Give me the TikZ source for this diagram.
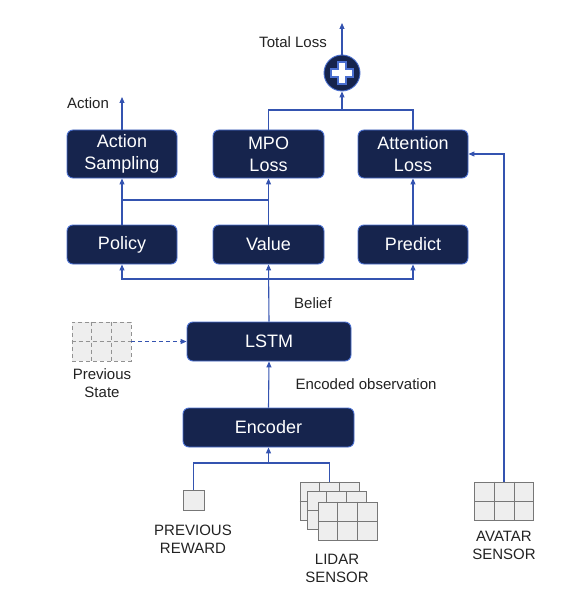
\documentclass[tikz,border=0pt]{standalone}
\usepackage{fontspec}
\setmainfont{Liberation Sans}
\usetikzlibrary{arrows.meta,calc}
\definecolor{navy}{HTML}{16244D}
\definecolor{edgeblue}{HTML}{4A6FD0}
\definecolor{lineblue}{HTML}{3453B0}
\definecolor{gridfill}{HTML}{EEEEEE}
\definecolor{gridstroke}{HTML}{777777}
\definecolor{labeltext}{HTML}{222222}
\newcommand\gridlines[2]{%
 \draw[#2] ($(#1.north west)!1/3!(#1.north east)$) -- ($(#1.south west)!1/3!(#1.south east)$);
 \draw[#2] ($(#1.north west)!2/3!(#1.north east)$) -- ($(#1.south west)!2/3!(#1.south east)$);
 \draw[#2] (#1.west) -- (#1.east);}
\tikzset{
 blk/.style={draw=edgeblue, line width=0.9bp, fill=navy, rounded corners=6bp, text=white,
   font=\fontsize{18bp}{22bp}\selectfont, align=center, inner sep=0pt, minimum height=39bp},
 lbl/.style={text=labeltext, font=\fontsize{15bp}{18bp}\selectfont, align=center, inner sep=0pt},
 conn/.style={draw=lineblue, line width=1.1bp},
 arr/.style={conn, -{Triangle[length=6bp,width=5bp]}},
 sgrid/.style={draw=gridstroke, line width=1bp, fill=gridfill, inner sep=0pt, minimum width=59bp, minimum height=38bp},
 gl/.style={draw=gridstroke, line width=1bp},
 dgrid/.style={draw=gridstroke!80, line width=0.9bp, dash pattern=on 4bp off 3bp, fill=gridfill, inner sep=0pt, minimum width=59bp, minimum height=39bp},
 dgl/.style={draw=gridstroke!80, line width=0.9bp, dash pattern=on 4bp off 3bp},
}
\begin{document}
\begin{tikzpicture}[x=1bp,y=-1bp]
\useasboundingbox (0,0) rectangle (569,600);
% top row
\node[blk, minimum width=110bp, minimum height=48bp] (as) at (122,154) {Action\\Sampling};
\node[blk, minimum width=111bp, minimum height=48bp] (mpo) at (268.5,154) {MPO\\Loss};
\node[blk, minimum width=110bp, minimum height=48bp] (att) at (413,154) {Attention\\Loss};
% second row
\node[blk, minimum width=110bp] (pol) at (122,244.5) {Policy};
\node[blk, minimum width=111bp] (val) at (268.5,244.5) {Value};
\node[blk, minimum width=110bp] (pred) at (413,244.5) {Predict};
% lstm, encoder
\node[blk, minimum width=164bp] (lstm) at (269,341.5) {LSTM};
\node[blk, minimum width=171bp] (enc) at (268.5,427.5) {Encoder};
% plus
\node[circle, draw=edgeblue, line width=0.9bp, fill=navy, minimum size=36bp, inner sep=0pt] (plus) at (342,73) {};
\draw[draw=edgeblue, line width=1.2bp, fill=white]
  ($(plus.center)+(-4,-11)$) -- ++(8,0) -- ++(0,7) -- ++(7,0) -- ++(0,8) -- ++(-7,0) -- ++(0,7)
  -- ++(-8,0) -- ++(0,-7) -- ++(-7,0) -- ++(0,-8) -- ++(7,0) -- cycle;
% labels
\node[lbl] (tl) at (293,42) {Total Loss};
\node[lbl] (actl) at (88,103) {Action};
\node[lbl] (bel) at (313,303) {Belief};
\node[lbl] (encl) at (366,384) {Encoded observation};
% previous state
\node[dgrid] (ps) at (101.5,341.5) {};
\gridlines{ps}{dgl}
\node[lbl] (psl) at (102,383) {Previous\\State};
% reward
\node[draw=gridstroke, line width=1bp, fill=gridfill, minimum width=21bp, minimum height=20bp, inner sep=0pt] (rew) at (193.5,500) {};
\node[lbl] (rewl) at (193,539) {PREVIOUS\\REWARD};
% lidar stack
\node[sgrid] (l1) at (329.5,501) {};
\gridlines{l1}{gl}
\node[sgrid] (l2) at (336.5,510.5) {};
\gridlines{l2}{gl}
\node[sgrid] (l3) at (347.5,521) {};
\gridlines{l3}{gl}
\node[lbl] (lidl) at (337,568.5) {LIDAR\\SENSOR};
% avatar
\node[sgrid] (av) at (504,501) {};
\gridlines{av}{gl}
\node[lbl] (avl) at (504,545) {AVATAR\\SENSOR};
% coordinates
\coordinate (tlend) at (342,23);
\coordinate (actend) at (122,97);
\coordinate (lossj) at (342,110);
\coordinate (polj) at (122,200);
\coordinate (valj) at (268.5,200);
\coordinate (beliefj) at (268.5,279);
\coordinate (encj) at (268.5,463);
% connectors
\draw[arr] (plus.north) -- (tlend);
\draw[arr] (as.north) -- (actend);
\draw[conn] (mpo.north) |- (lossj);
\draw[conn] (att.north) |- (lossj);
\draw[arr] (lossj) -- (plus.south);
\draw[arr] (pol.north) -- (as.south);
\draw[conn] (polj) -- (valj);
\draw[arr] (val.north) -- (mpo.south);
\draw[arr] (pred.north) -- (att.south);
\draw[arr] (lstm.north) -- (val.south);
\draw[arr] (beliefj) -| (pol.south);
\draw[arr] (beliefj) -| (pred.south);
\draw[arr] (enc.north) -- (lstm.south);
\draw[arr] (encj) -- (enc.south);
\draw[conn] (rew.north) |- (encj);
\draw[conn] (l1.north) |- (encj);
\draw[arr] (av.north) |- (att.east);
\draw[arr, dash pattern=on 4bp off 3bp] (ps.east) -- (lstm.west);
\end{tikzpicture}
\end{document}
